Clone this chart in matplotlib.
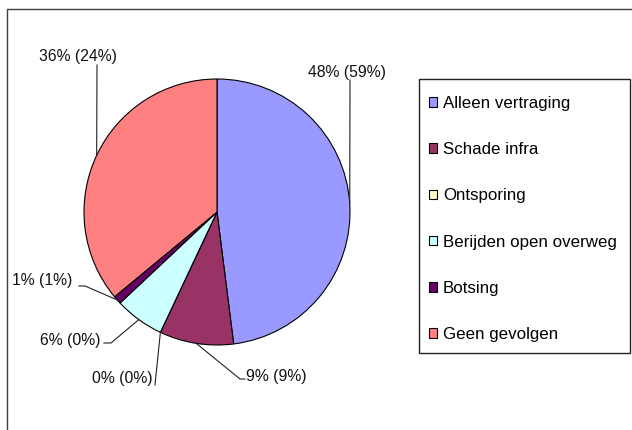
import matplotlib
matplotlib.use("Agg")
import matplotlib.pyplot as plt
from matplotlib.patches import Patch, Rectangle
import numpy as np

categories = ["Alleen vertraging", "Schade infra", "Ontsporing",
              "Berijden open overweg", "Botsing", "Geen gevolgen"]
values = [48, 9, 0, 6, 1, 36]
labels = ["48% (59%)", "9% (9%)", "0% (0%)", "6% (0%)", "1% (1%)", "36% (24%)"]
colors = ["#9999FF", "#993366", "#FFFFCC", "#CCFFFF", "#660066", "#FF8080"]

plt.rcParams['font.family'] = ['Liberation Sans', 'DejaVu Sans']

W, H = 632, 430
fig = plt.figure(figsize=(W / 100, H / 100), dpi=100)
fig.patch.set_facecolor("white")

# outer frame (right/bottom edges lie outside the image)
fig.patches.append(Rectangle((7 / W, -0.2), 2, 1 - 9 / H + 0.2,
                             transform=fig.transFigure, fill=False,
                             edgecolor="#404040", lw=1.0))
# legend box
fig.patches.append(Rectangle((419 / W, 1 - 353 / H), 211 / W, 274 / H,
                             transform=fig.transFigure, fill=False,
                             edgecolor="#222222", lw=1.0))

cx, cy, r = 217, 212, 133
ax = fig.add_axes([(cx - r) / W, (H - cy - r) / H, 2 * r / W, 2 * r / H])
wedges, _ = ax.pie(values, colors=colors, startangle=90, counterclock=False,
                   radius=1, wedgeprops=dict(edgecolor="black", linewidth=0.8))
ax.set_xlim(-1, 1)
ax.set_ylim(-1, 1)
ax.set_aspect("equal")
ax.axis("off")

fig.canvas.draw()
inv = ax.transData.inverted()


def px(x, y):
    return inv.transform((x, H - y))


# label layout: (text x, text y, ha, elbow points in px)
layout = [
    (347, 72, "center", [(350, 80)]),
    (246, 377, "left", [(240, 379), (245, 379)]),
    (152, 379, "right", [(155, 385)]),
    (100, 340, "right", [(111, 343), (104, 343)]),
    (72, 281, "right", [(85, 286), (79, 286)]),
    (78, 56, "center", [(97, 65)]),
]

for w, lab, (tx, ty, ha, pts) in zip(wedges, labels, layout):
    mid = np.deg2rad((w.theta1 + w.theta2) / 2)
    ex, ey = np.cos(mid), np.sin(mid)
    xs = [ex] + [px(*p)[0] for p in pts]
    ys = [ey] + [px(*p)[1] for p in pts]
    ax.plot(xs, ys, color="#222222", lw=0.8, clip_on=False)
    tpx = px(tx, ty)
    ax.text(tpx[0], tpx[1], lab, ha=ha, va="center", fontsize=11.3,
            color="#111111", clip_on=False)

handles = [Patch(facecolor=c, edgecolor="black", linewidth=0.8) for c in colors]
leg = fig.legend(handles, categories, loc="upper left",
                 bbox_to_anchor=(429 / W, 1 - 96 / H),
                 borderaxespad=0, fontsize=12.2,
                 frameon=False,
                 handlelength=0.5, handleheight=0.5, handletextpad=0.33,
                 labelspacing=1.84, borderpad=0)

fig.savefig("out.png", dpi=100)
